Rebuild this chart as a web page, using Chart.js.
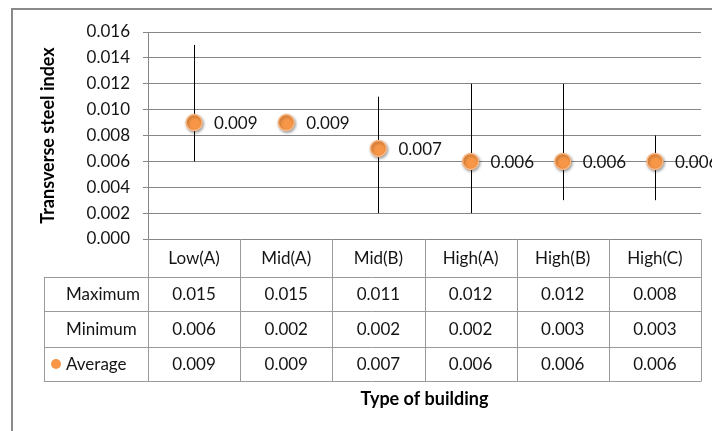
<!DOCTYPE html>
<html>
<head>
<meta charset="utf-8">
<script src="https://cdn.jsdelivr.net/npm/chart.js@4.4.1/dist/chart.umd.min.js"></script>
<style>
  html, body { margin: 0; padding: 0; background: #fff; }
  #wrap { width: 712px; height: 431px; position: relative; }
</style>
</head>
<body>
<div id="wrap"><canvas id="c" width="712" height="431"></canvas></div>
<script>
// Building types and transverse steel index statistics
const categories = ['Low(A)', 'Mid(A)', 'Mid(B)', 'High(A)', 'High(B)', 'High(C)'];
const maximum = [0.015, 0.015, 0.011, 0.012, 0.012, 0.008];
const minimum = [0.006, 0.002, 0.002, 0.002, 0.003, 0.003];
const average = [0.009, 0.009, 0.007, 0.006, 0.006, 0.006];
// whether the min-max range line is drawn for each building type
const rangeShown = [true, false, true, true, true, true];
const rowLabels = ['Maximum', 'Minimum', 'Average'];

const FONT = 'Lato, "Open Sans", sans-serif';
const TEXT = '#141414';
const GRID = '#868686';
const TABLE_LINE = '#9a9a9a';
const ORANGE = '#F79646';

const fmt = v => v.toFixed(3);

const decor = {
  id: 'decor',
  beforeDraw(chart) {
    const ctx = chart.ctx;
    ctx.save();
    ctx.fillStyle = '#fff';
    ctx.fillRect(0, 0, chart.width, chart.height);
    ctx.strokeStyle = '#8a8a8a';
    ctx.lineWidth = 2;
    ctx.strokeRect(12, 9, 900, 900);
    ctx.restore();
  },
  beforeDatasetsDraw(chart) {
    // min-max range lines
    const ctx = chart.ctx, xs = chart.scales.x, ys = chart.scales.y;
    ctx.save();
    ctx.strokeStyle = '#000';
    ctx.lineWidth = 1;
    categories.forEach((c, i) => {
      if (!rangeShown[i]) return;
      const x = Math.round(xs.getPixelForValue(i)) + 0.5;
      ctx.beginPath();
      ctx.moveTo(x, ys.getPixelForValue(maximum[i]));
      ctx.lineTo(x, ys.getPixelForValue(minimum[i]));
      ctx.stroke();
    });
    ctx.restore();
  },
  beforeDatasetDraw(chart) {
    const ctx = chart.ctx;
    ctx.save();
    ctx.shadowColor = 'rgba(0,0,0,0.35)';
    ctx.shadowBlur = 3;
    ctx.shadowOffsetX = 1;
    ctx.shadowOffsetY = 1.5;
  },
  afterDatasetDraw(chart) {
    chart.ctx.restore();
  },
  afterDatasetsDraw(chart) {
    const ctx = chart.ctx, xs = chart.scales.x, ys = chart.scales.y;
    const area = chart.chartArea;
    ctx.save();
    // value labels beside the points
    ctx.font = '17px ' + FONT;
    ctx.fillStyle = TEXT;
    ctx.textAlign = 'left';
    ctx.textBaseline = 'middle';
    average.forEach((v, i) => {
      ctx.fillText(fmt(v), xs.getPixelForValue(i) + 20, ys.getPixelForValue(v) + 1);
    });

    // data table under the plot
    const n = categories.length;
    const colW = (area.right - area.left) / n;
    const rows = [area.bottom, 277, 311, 347, 381];
    const tableLeft = 44;
    ctx.strokeStyle = TABLE_LINE;
    ctx.lineWidth = 1;
    ctx.beginPath();
    for (let r = 1; r < rows.length; r++) {
      const y = Math.round(rows[r]) + 0.5;
      ctx.moveTo(tableLeft, y);
      ctx.lineTo(area.right, y);
    }
    for (let i = 0; i <= n; i++) {
      const x = Math.round(area.left + i * colW) + 0.5;
      ctx.moveTo(x, area.bottom);
      ctx.lineTo(x, rows[4] + 0.5);
    }
    ctx.moveTo(tableLeft + 0.5, rows[1]);
    ctx.lineTo(tableLeft + 0.5, rows[4] + 0.5);
    ctx.stroke();

    ctx.fillStyle = TEXT;
    ctx.textAlign = 'center';
    const rowData = [maximum, minimum, average];
    categories.forEach((c, i) => {
      const cx = area.left + (i + 0.5) * colW;
      ctx.fillText(c, cx, (rows[0] + rows[1]) / 2 + 1);
      rowData.forEach((arr, r) => {
        ctx.fillText(fmt(arr[i]), cx, (rows[r + 1] + rows[r + 2]) / 2 + 1);
      });
    });
    ctx.textAlign = 'left';
    rowLabels.forEach((lab, r) => {
      ctx.fillText(lab, 66, (rows[r + 1] + rows[r + 2]) / 2 + 1);
    });
    // legend key for the average series
    ctx.fillStyle = ORANGE;
    ctx.beginPath();
    ctx.arc(56, (rows[3] + rows[4]) / 2, 5, 0, Math.PI * 2);
    ctx.fill();

    // axis titles
    ctx.fillStyle = '#000';
    ctx.font = 'bold 18px ' + FONT;
    ctx.textAlign = 'center';
    ctx.fillText('Type of building', (area.left + area.right) / 2, 399);
    ctx.translate(48, (area.top + area.bottom) / 2);
    ctx.rotate(-Math.PI / 2);
    ctx.fillText('Transverse steel index', 0, 0);
    ctx.restore();
  }
};

new Chart(document.getElementById('c'), {
  type: 'line',
  data: {
    labels: categories,
    datasets: [{
      label: 'Average',
      data: average,
      showLine: false,
      pointRadius: 8,
      pointHoverRadius: 8,
      pointBackgroundColor: ORANGE,
      pointBorderColor: '#F9B784',
      pointBorderWidth: 1.5,
      clip: false
    }]
  },
  options: {
    responsive: false,
    devicePixelRatio: 1,
    animation: false,
    events: [],
    layout: { padding: { left: 0, right: 11, top: 32, bottom: 192 } },
    plugins: { legend: { display: false }, tooltip: { enabled: false } },
    scales: {
      x: { type: 'category', display: false, offset: true },
      y: {
        min: 0,
        max: 0.016,
        afterFit(scale) { scale.width = 148; },
        ticks: {
          stepSize: 0.002,
          padding: 13,
          color: TEXT,
          font: { family: FONT, size: 17 },
          callback: v => fmt(v)
        },
        grid: { color: GRID, lineWidth: 1, tickLength: 5 },
        border: { display: true, color: GRID, width: 1 }
      }
    }
  },
  plugins: [decor]
});
</script>
</body>
</html>
